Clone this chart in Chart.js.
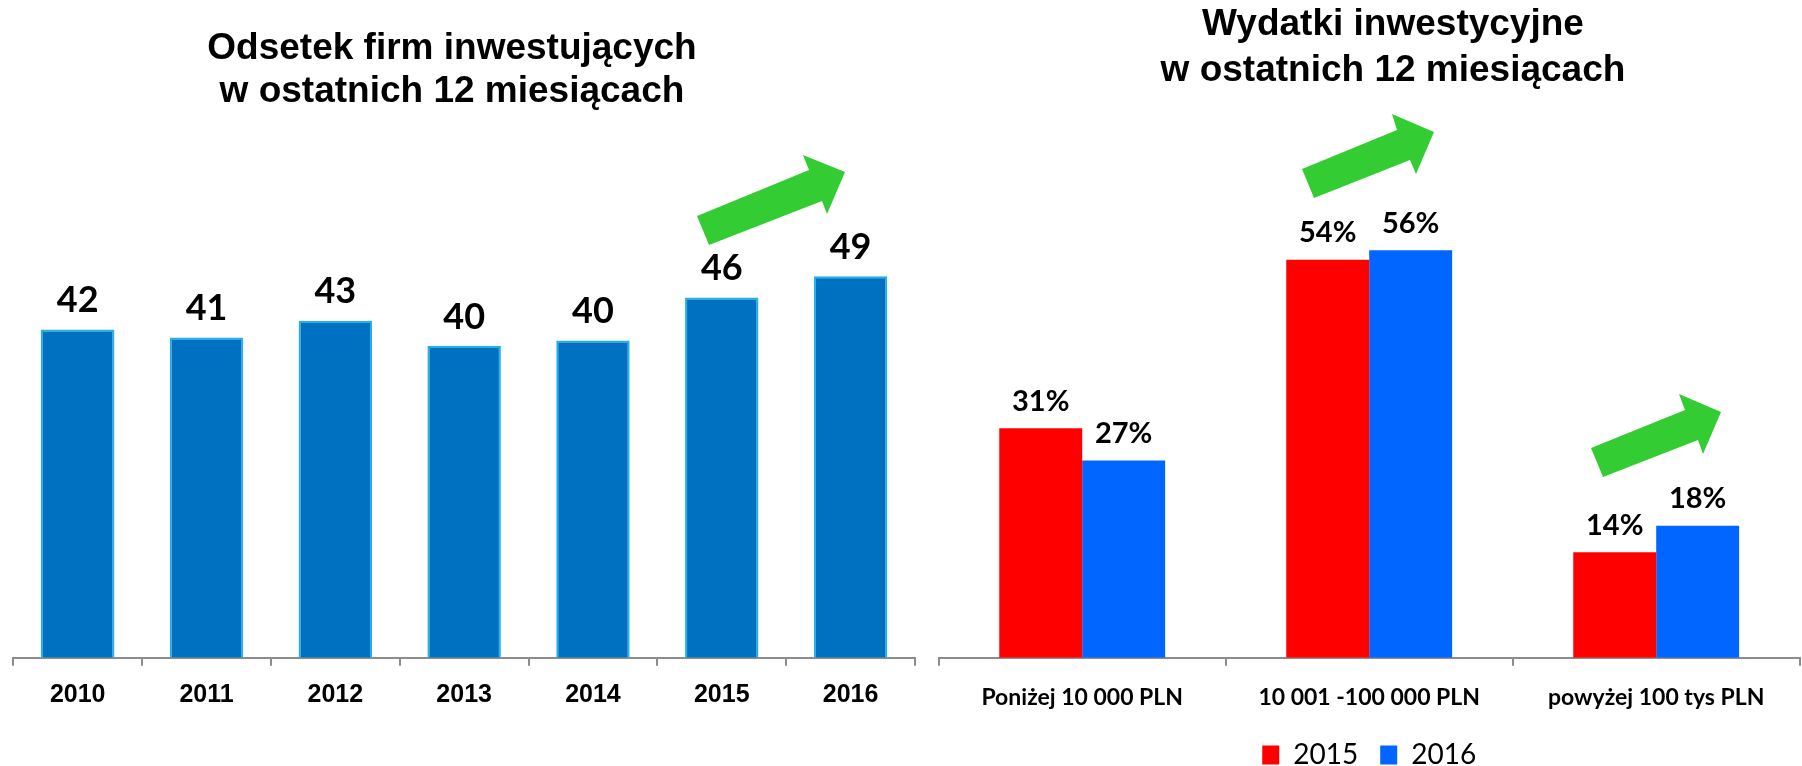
<!DOCTYPE html>
<html lang="pl">
<head>
<meta charset="utf-8">
<script src="https://cdn.jsdelivr.net/npm/chart.js@4.4.1/dist/chart.umd.min.js"></script>
<style>
  html, body { margin: 0; padding: 0; background: #fff; }
  body { width: 1802px; height: 766px; position: relative; overflow: hidden; }
  #left { position: absolute; left: 0; top: 0; }
  #right { position: absolute; left: 920px; top: 0; }
</style>
</head>
<body>
<canvas id="left" width="920" height="766"></canvas>
<canvas id="right" width="882" height="766"></canvas>
<script>
// dane - lewy wykres
const years = ['2010', '2011', '2012', '2013', '2014', '2015', '2016'];
const firmShare = [41.8, 40.8, 42.9, 39.7, 40.4, 45.9, 48.6];

// dane - prawy wykres
const spendCats = ['Poniżej 10 000 PLN', '10 001 -100 000 PLN', 'powyżej 100 tys PLN'];
const spendYears = ['2015', '2016'];
const spend2015 = [31.3, 54.3, 14.4];
const spend2016 = [26.9, 55.6, 18.0];

const leftTitle = ['Odsetek firm inwestujących', 'w ostatnich 12 miesiącach'];
const rightTitle = ['Wydatki inwestycyjne', 'w ostatnich 12 miesiącach'];

// zielone strzałki (dekoracja, współrzędne strony)
const arrows = [
    [[697, 216], [809, 170], [803, 155], [845, 172], [827, 214], [822, 201], [709, 245]],
    [[1302, 169], [1397, 130], [1392, 114], [1434, 132], [1416, 174], [1410, 160], [1314, 198]],
    [[1591, 448], [1685, 410], [1679, 394], [1721, 412], [1703, 454], [1698, 440], [1603, 477]]
];

const ARIAL = "'Liberation Sans', Arial, Helvetica, sans-serif";
const CALIBRI = "Lato, Carlito, Calibri, sans-serif";

// tytuł wykresu (dwie linie, dowolna pozycja)
const headingPlugin = {
    id: 'heading',
    afterDraw(chart, args, opts) {
        const ctx = chart.ctx;
        ctx.save();
        ctx.font = opts.font;
        ctx.fillStyle = '#000';
        ctx.textAlign = 'center';
        ctx.textBaseline = 'alphabetic';
        opts.lines.forEach((t, i) => ctx.fillText(t, opts.x, opts.y + i * opts.gap));
        ctx.restore();
    }
};

// etykiety wartości nad słupkami
const valueLabels = {
    id: 'valueLabels',
    afterDatasetsDraw(chart, args, opts) {
        const ctx = chart.ctx;
        ctx.save();
        ctx.font = opts.font;
        ctx.fillStyle = '#000';
        ctx.textAlign = 'center';
        ctx.textBaseline = 'alphabetic';
        chart.data.datasets.forEach((ds, di) => {
            chart.getDatasetMeta(di).data.forEach((bar, i) => {
                ctx.fillText(opts.format(ds.data[i]), bar.x, bar.y - opts.gap);
            });
        });
        ctx.restore();
    }
};

const arrowPlugin = {
    id: 'arrows',
    afterDraw(chart, args, opts) {
        const ctx = chart.ctx;
        ctx.save();
        ctx.fillStyle = '#33cc33';
        opts.shapes.forEach(pts => {
            ctx.beginPath();
            pts.forEach(([x, y], i) => {
                if (i === 0) ctx.moveTo(x - opts.dx, y);
                else ctx.lineTo(x - opts.dx, y);
            });
            ctx.closePath();
            ctx.fill();
        });
        ctx.restore();
    }
};

const axisX = (font, pad, h) => ({
    grid: { drawOnChartArea: false, offset: true, tickLength: 8, color: '#8c8c8c', lineWidth: 2 },
    border: { color: '#8c8c8c', width: 2 },
    ticks: { color: '#000', font: font, padding: pad, maxRotation: 0, autoSkip: false },
    afterFit: s => { s.height = h; }
});

new Chart(document.getElementById('left'), {
    type: 'bar',
    data: {
        labels: years,
        datasets: [{
            data: firmShare,
            backgroundColor: '#0070c0',
            borderColor: '#1fb0ee',
            borderWidth: 2,
            barPercentage: 0.57,
            categoryPercentage: 1
        }]
    },
    options: {
        responsive: false,
        animation: false,
        devicePixelRatio: 1,
        layout: { padding: { left: 13.3, right: 5, top: 186.7, bottom: 0 } },
        plugins: {
            legend: { display: false },
            tooltip: { enabled: false },
            heading: { lines: leftTitle, x: 452, y: 59, gap: 43, font: 'bold 37px ' + ARIAL },
            valueLabels: { font: 'bold 36px ' + CALIBRI, gap: 17.5, format: v => String(Math.round(v)) },
            arrows: { shapes: [arrows[0]], dx: 0 }
        },
        scales: {
            x: axisX({ family: ARIAL, size: 25, weight: 'bold' }, 14, 766 - 657.7),
            y: { display: false, min: 0, max: 60 }
        }
    },
    plugins: [headingPlugin, valueLabels, arrowPlugin]
});

new Chart(document.getElementById('right'), {
    type: 'bar',
    data: {
        labels: spendCats,
        datasets: [
            { label: spendYears[0], data: spend2015, backgroundColor: '#ff0000', borderWidth: 0, barPercentage: 1, categoryPercentage: 0.578 },
            { label: spendYears[1], data: spend2016, backgroundColor: '#0066ff', borderWidth: 0, barPercentage: 1, categoryPercentage: 0.578 }
        ]
    },
    options: {
        responsive: false,
        animation: false,
        devicePixelRatio: 1,
        layout: { padding: { left: 18.7, right: 2.3, top: 217.9, bottom: 0 } },
        plugins: {
            legend: {
                display: true,
                position: 'bottom',
                maxHeight: 47,
                labels: { boxWidth: 17, boxHeight: 19, padding: 22, color: '#000', font: { family: CALIBRI, size: 28 } }
            },
            tooltip: { enabled: false },
            heading: { lines: rightTitle, x: 1393 - 920, y: 35, gap: 46, font: 'bold 37px ' + ARIAL },
            valueLabels: { font: 'bold 29px ' + CALIBRI, gap: 17.5, format: v => Math.round(v) + '%' },
            arrows: { shapes: [arrows[1], arrows[2]], dx: 920 }
        },
        scales: {
            x: axisX({ family: CALIBRI, size: 23, weight: 'bold' }, 18, 766 - 47 - 657.7),
            y: { display: false, min: 0, max: 60 }
        }
    },
    plugins: [headingPlugin, valueLabels, arrowPlugin]
});
</script>
</body>
</html>
